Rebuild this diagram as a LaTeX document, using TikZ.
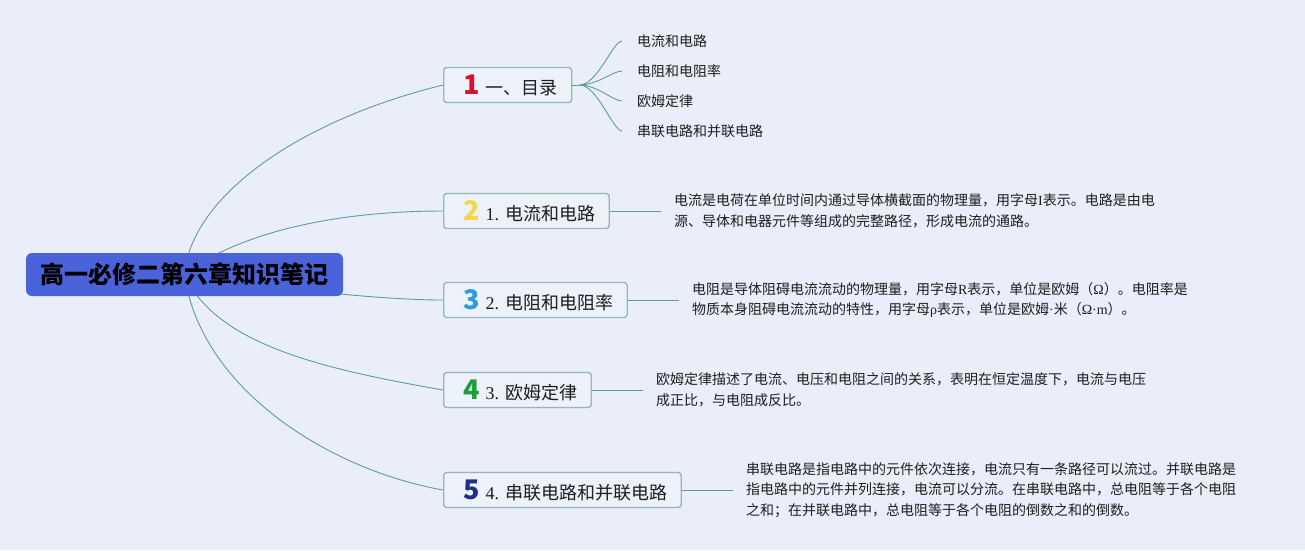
\documentclass[tikz,border=0pt]{standalone}
\usepackage{fontspec}
\setmainfont{Liberation Serif}
\newfontfamily\cjk{Noto Sans CJK SC}
\usepackage{tikz}
\usetikzlibrary{positioning,backgrounds}
\definecolor{notebg}{HTML}{E9EEFA}
\definecolor{noteroot}{HTML}{4A62DA}
\definecolor{noteline}{HTML}{5E9C9C}
\definecolor{noteframe}{HTML}{93B8BA}
\definecolor{notebox}{HTML}{EDF1FA}
\definecolor{notetext}{HTML}{1E1E1E}
\definecolor{numred}{HTML}{D9122B}
\definecolor{numyellow}{HTML}{F4D84B}
\definecolor{numblue}{HTML}{2B9BE3}
\definecolor{numgreen}{HTML}{1E9E3A}
\definecolor{numnavy}{HTML}{1F2E8A}
\tikzstyle{topic} = [rectangle, fill=noteroot, rounded corners=6pt, minimum width=317pt,
    minimum height=43pt, inner sep=0pt, text=black, font=\cjk\bfseries\fontsize{24}{26}\selectfont]
\tikzstyle{branch} = [rectangle, draw=noteframe, line width=1.4pt, rounded corners=3pt,
    fill=notebox, minimum height=35pt, inner xsep=14pt, inner ysep=0pt, anchor=west,
    text=notetext, font=\cjk\fontsize{18}{20}\selectfont]
\tikzstyle{leaf} = [inner xsep=2pt, anchor=west, text=notetext, font=\cjk\fontsize{14}{16}\selectfont]
\tikzstyle{desc} = [align=left, inner xsep=3pt, text=notetext, font=\cjk\fontsize{14}{20.5}\selectfont]
\tikzstyle{link} = [draw=noteline, line width=0.9pt]
\newcommand{\numtag}[2]{\makebox[28pt][c]{\color{#1}\fontsize{27}{27}\selectfont\bfseries #2}}

\begin{document}
\begin{tikzpicture}[x=1pt, y=-1pt]
\useasboundingbox (0,0) rectangle (1305,550);
% central topic
\node[topic] (top) at (184.5,274.5) {高一必修二第六章知识笔记};

% main branches
\node[branch] (b1) at (443,85) {\numtag{numred}{1}一、目录};
\node[branch] (b2) at (443,211) {\numtag{numyellow}{2}{\rmfamily 1. }电流和电路};
\node[branch] (b3) at (443,300) {\numtag{numblue}{3}{\rmfamily 2. }电阻和电阻率};
\node[branch] (b4) at (443,390) {\numtag{numgreen}{4}{\rmfamily 3. }欧姆定律};
\node[branch] (b5) at (443,490) {\numtag{numnavy}{5}{\rmfamily 4. }串联电路和并联电路};

% contents of the first branch
\coordinate[right=7pt of b1] (hub);
\node[leaf] (l1) at (635,41) {电流和电路};
\node[leaf] (l2) at (635,71) {电阻和电阻率};
\node[leaf] (l3) at (635,101) {欧姆定律};
\node[leaf] (l4) at (635,131) {串联电路和并联电路};

% notes
\node[desc, right=61pt of b2] (d2) {电流是电荷在单位时间内通过导体横截面的物理量，用字母{\rmfamily I}表示。电路是由电\\
  源、导体和电器元件等组成的完整路径，形成电流的通路。};
\node[desc, right=61pt of b3] (d3) {电阻是导体阻碍电流流动的物理量，用字母{\rmfamily R}表示，单位是欧姆（{\rmfamily Ω}）。电阻率是\\
  物质本身阻碍电流流动的特性，用字母{\rmfamily ρ}表示，单位是欧姆{\rmfamily ·}米（{\rmfamily Ω·m}）。};
\node[desc, right=61pt of b4] (d4) {欧姆定律描述了电流、电压和电阻之间的关系，表明在恒定温度下，电流与电压\\
  成正比，与电阻成反比。};
\node[desc, right=61pt of b5] (d5) {串联电路是指电路中的元件依次连接，电流只有一条路径可以流过。并联电路是\\
  指电路中的元件并列连接，电流可以分流。在串联电路中，总电阻等于各个电阻\\
  之和；在并联电路中，总电阻等于各个电阻的倒数之和的倒数。};

\begin{scope}[on background layer]
\fill[notebg] (0,0) rectangle (1305,550);
\draw[link] (top.center) .. controls +(6,-75) and +(-150,37) .. (b1.west);
\draw[link] (top.center) .. controls +(51,-40) and +(-113,0) .. (b2.west);
\draw[link] (top.center) .. controls +(100,15) and +(-60,0) .. (b3.west);
\draw[link] (top.center) .. controls +(31,70) and +(-120,-21) .. (b4.west);
\draw[link] (top.center) .. controls +(16,115) and +(-113,-20) .. (b5.west);
\draw[link] (b1.east) -- (hub);
\foreach \l in {l1,l2,l3,l4}
  \draw[link, shorten >=13pt] (hub) .. controls +(18,0) and +(-22,0) .. (\l.west);
\draw[link, shorten >=10pt] (b2.east) -- (d2.west);
\draw[link, shorten >=10pt] (b3.east) -- (d3.west);
\draw[link, shorten >=10pt] (b4.east) -- (d4.west);
\draw[link, shorten >=10pt] (b5.east) -- (d5.west);
\end{scope}
\end{tikzpicture}
\end{document}
